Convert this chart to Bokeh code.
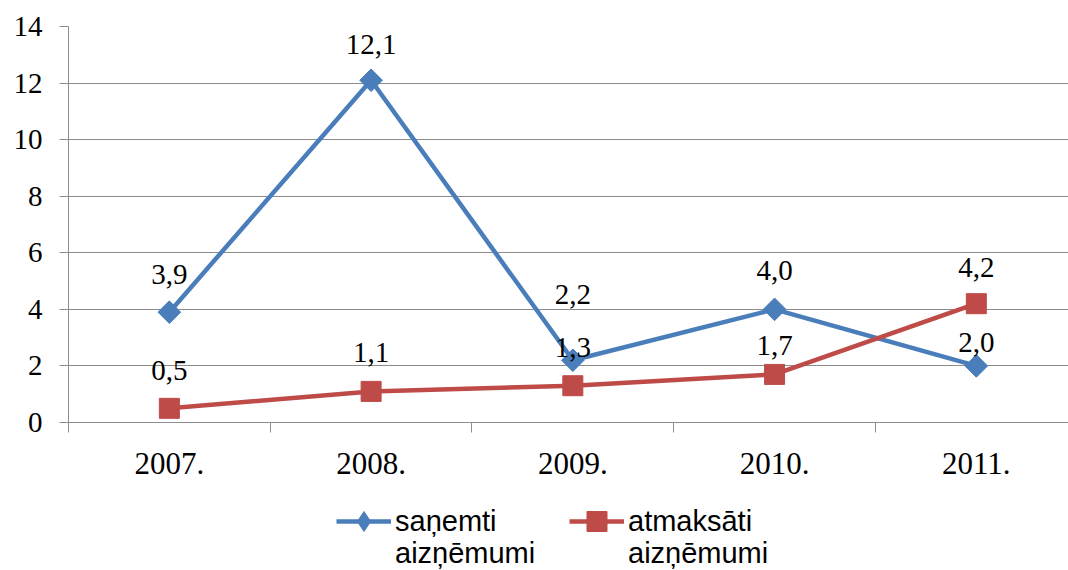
import math
from bokeh.plotting import figure
from bokeh.layouts import column
from bokeh.models import ColumnDataSource, FixedTicker, Legend, LegendItem
from bokeh.core.properties import value
from bokeh.embed import file_html
from bokeh.resources import INLINE

# ---- data ----
years = ["2007.", "2008.", "2009.", "2010.", "2011."]
sanemti = [3.9, 12.1, 2.2, 4.0, 2.0]
atmaksati = [0.5, 1.1, 1.3, 1.7, 4.2]
sanemti_labels = ["3,9", "12,1", "2,2", "4,0", "2,0"]
atmaksati_labels = ["0,5", "1,1", "1,3", "1,7", "4,2"]
series_line1 = ["saņemti", "atmaksāti"]
series_line2 = ["aizņēmumi", "aizņēmumi"]
y_ticks = [0, 2, 4, 6, 8, 10, 12, 14]

# label offsets (pixels above the point), layout only
sanemti_dy = [-38, -36, -66, -39, -23]
atmaksati_dy = [-38, -39, -38, -29, -36]

BLUE = "#4A7EBB"
RED = "#BE4B48"
GRID = "#8C8C8C"
SERIF = "Liberation Serif"
SANS = "Liberation Sans"

xs = list(range(len(years)))

p = figure(width=1068, height=490, output_backend="svg", toolbar_location=None,
           x_range=(-0.5, 4.457), y_range=(0, 14),
           min_border_left=68, min_border_right=0, min_border_top=26,
           min_border_bottom=68)
p.outline_line_color = None
p.background_fill_color = "white"
p.border_fill_color = "white"

# grid
p.xgrid.grid_line_color = None
p.ygrid.grid_line_color = GRID
p.ygrid.grid_line_width = 1
p.ygrid.ticker = FixedTicker(ticks=y_ticks)

# y axis
p.yaxis.ticker = FixedTicker(ticks=y_ticks)
p.yaxis.axis_line_color = GRID
p.yaxis.major_tick_line_color = GRID
p.yaxis.major_tick_out = 9
p.yaxis.major_tick_in = 0
p.yaxis.minor_tick_line_color = None
p.yaxis.major_label_text_font = SERIF
p.yaxis.major_label_text_font_size = "29px"
p.yaxis.major_label_text_color = "black"
p.yaxis.major_label_standoff = 17

# x axis: labels at category centres, tick marks at boundaries (minor ticks)
p.xaxis.ticker = FixedTicker(ticks=xs, minor_ticks=[i - 0.5 for i in range(len(years) + 1)])
p.xaxis.major_label_overrides = {i: y for i, y in enumerate(years)}
p.xaxis.axis_line_color = GRID
p.xaxis.major_tick_line_color = None
p.xaxis.major_tick_out = 0
p.xaxis.major_tick_in = 0
p.xaxis.minor_tick_line_color = GRID
p.xaxis.minor_tick_out = 10
p.xaxis.minor_tick_in = 0
p.xaxis.major_label_text_font = SERIF
p.xaxis.major_label_text_font_size = "31px"
p.xaxis.major_label_text_color = "black"
p.xaxis.major_label_standoff = 20

src1 = ColumnDataSource(dict(x=xs, y=sanemti, lab=sanemti_labels, dy=sanemti_dy))
src2 = ColumnDataSource(dict(x=xs, y=atmaksati, lab=atmaksati_labels, dy=atmaksati_dy))

line1 = dict(line_color=BLUE, line_width=4.5)
mark1 = dict(marker="square", angle=math.pi / 4, size=16, fill_color=BLUE, line_color=BLUE)
line2 = dict(line_color=RED, line_width=4.5)
mark2 = dict(marker="square", size=20, fill_color=RED, line_color=RED)

p.line("x", "y", source=src1, **line1)
p.scatter("x", "y", source=src1, **mark1)
p.line("x", "y", source=src2, **line2)
p.scatter("x", "y", source=src2, **mark2)

for src in (src1, src2):
    p.text("x", "y", text="lab", source=src, y_offset="dy",
           text_align="center", text_baseline="alphabetic",
           text_font=value(SERIF), text_font_size="29px", text_color="black")

# ---- legend strip below the chart (its ranges keep the series out of view) ----
q = figure(width=1068, height=80, output_backend="svg", toolbar_location=None,
           x_axis_location=None, y_axis_location=None,
           x_range=(100, 101), y_range=(100, 101),
           min_border_left=68, min_border_right=0, min_border_top=0, min_border_bottom=0)
q.outline_line_color = None
q.xgrid.grid_line_color = None
q.ygrid.grid_line_color = None

ql1 = q.line("x", "y", source=src1, **line1)
qm1 = q.scatter("x", "y", source=src1, marker="diamond", fill_color=BLUE, line_color=BLUE)
ql2 = q.line("x", "y", source=src2, **line2)
qm2 = q.scatter("x", "y", source=src2, marker="square", fill_color=RED, line_color=RED)
blank = q.line("x", "y", source=src1, line_alpha=0)


def make_legend(labels, rends, loc, gh):
    lg = Legend(items=[LegendItem(label=labels[0], renderers=rends[0]),
                       LegendItem(label=labels[1], renderers=rends[1])],
                orientation="horizontal", location=loc)
    lg.label_text_font = SANS
    lg.label_text_font_size = "29px"
    lg.label_text_color = "black"
    lg.glyph_width = 55
    lg.glyph_height = gh
    lg.label_width = 142
    lg.label_standoff = 4
    lg.spacing = 32
    lg.border_line_color = None
    lg.background_fill_alpha = 0
    lg.padding = 0
    lg.margin = 0
    return lg


q.add_layout(make_legend(series_line1, [[ql1, qm1], [ql2, qm2]], (268, 24), 50))
q.add_layout(make_legend(series_line2, [[blank], [blank]], (268, 0), 34))

layout = column(p, q, spacing=0)
open("out.html", "w").write(file_html(layout, INLINE))
